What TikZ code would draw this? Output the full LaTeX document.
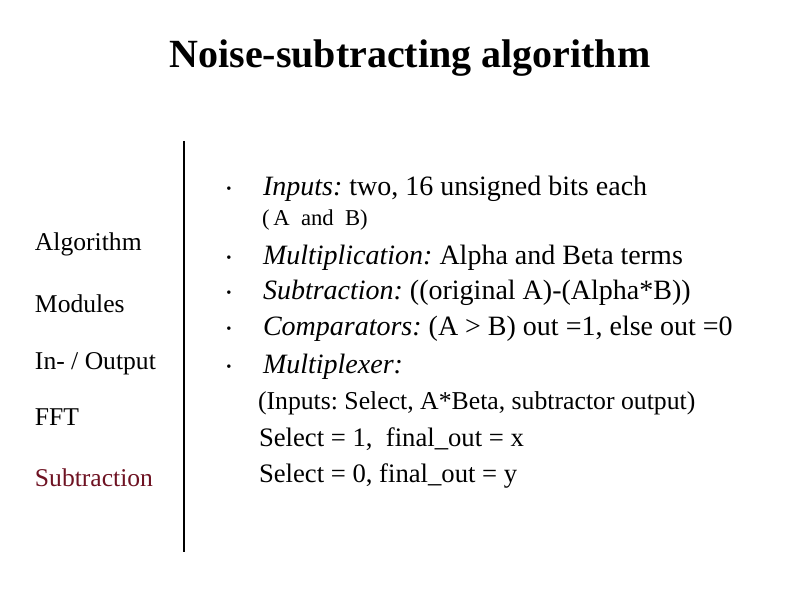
\documentclass[tikz,border=0pt]{standalone}
\usepackage{fontspec}
\setmainfont{Liberation Serif}
\frenchspacing
\definecolor{menured}{HTML}{6E1222}
\tikzset{
  txt/.style={anchor=base west, inner sep=0pt, outer sep=0pt},
  menu/.style={txt, font=\fontsize{19.2}{23}\selectfont},
  body/.style={txt, font=\fontsize{21}{25}\selectfont},
  sub/.style={txt, font=\fontsize{19.3}{23}\selectfont},
  sel/.style={txt, font=\fontsize{20}{24}\selectfont},
  small/.style={txt, font=\fontsize{17}{20}\selectfont},
  bul/.style={anchor=base, inner sep=0pt, outer sep=0pt, font=\fontsize{11}{13}\selectfont},
  divider/.style={line width=1.1pt, black}
}
\begin{document}
\begin{tikzpicture}[x=0.75pt,y=-0.75pt]
\useasboundingbox (0,0) rectangle (794,595);
\node[anchor=base, inner sep=0pt, font=\fontsize{30}{36}\selectfont\bfseries] (title) at (410,68) {Noise-subtracting algorithm};

\coordinate (dtop) at (184,141);
\coordinate (dbot) at (184,552);
\draw[divider] (dtop) -- (dbot);

\node[menu] (m1) at (35,251) {Algorithm};
\node[menu] (m2) at (35,313) {Modules};
\node[menu] (m3) at (35,370) {In- / Output};
\node[menu] (m4) at (35,426) {FFT};
\node[menu, text=menured] (m5) at (35,487) {Subtraction};

\node[bul] (b1) at (229,194) {\textbullet};
\node[bul] (b2) at (229,263) {\textbullet};
\node[bul] (b3) at (229,298) {\textbullet};
\node[bul] (b4) at (229,334) {\textbullet};
\node[bul] (b5) at (229,372) {\textbullet};

\node[body] (t1) at (263,196) {{\itshape Inputs:} two, 16 unsigned bits each};
\node[small] (t1b) at (262,226) {(\,A\ \ and\ \ B)};
\node[body] (t2) at (263,265) {{\itshape Multiplication:} Alpha and Beta terms};
\node[body] (t3) at (263,300) {{\itshape Subtraction:} ((original A)-(Alpha*B))};
\node[body] (t4) at (263,336) {{\itshape Comparators:} (A > B) out =1, else out =0};
\node[body] (t5) at (263,374) {{\itshape Multiplexer:}};
\node[sub] (t6) at (258,410) {(Inputs: Select, A*Beta, subtractor output)};
\node[sel] (t7) at (259,447) {Select = 1,\ \ final\_out = x};
\node[sel] (t8) at (259,483) {Select = 0, final\_out = y};
\end{tikzpicture}
\end{document}
